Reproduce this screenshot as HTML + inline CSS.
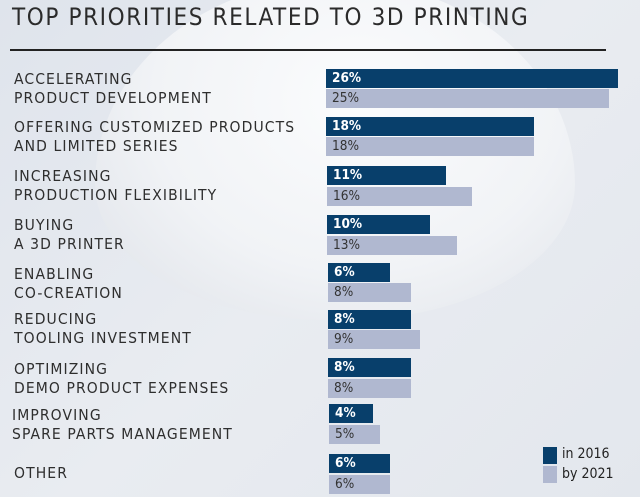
<!DOCTYPE html>
<html><head><meta charset="utf-8"><style>
html,body{margin:0;padding:0}
body{width:640px;height:497px;position:relative;overflow:hidden;font-family:"DejaVu Sans Condensed","DejaVu Sans","Liberation Sans",sans-serif;color:#333;
background:linear-gradient(135deg,#dfe4ec 0%,#e9ecf1 50%,#e3e7ed 100%);}
.dome{position:absolute;left:95px;top:-20px;width:480px;height:340px;border-radius:50% 50% 48% 48%/60% 60% 40% 40%;
background:radial-gradient(ellipse at 55% 35%,#fbfcfd 0%,#f1f3f6 55%,#e6e9ee 80%,rgba(228,232,238,0) 100%);}
.t{position:absolute;left:12px;top:3px;font-size:24px;letter-spacing:1.6px;color:#2b2b2b;white-space:nowrap}
.rule{position:absolute;left:10px;top:49px;width:596px;height:2px;background:#222}
.l{position:absolute;left:14px;font-size:15.5px;line-height:19px;letter-spacing:1.1px;color:#2e2e2e;white-space:nowrap}
.b{position:absolute;height:19px;color:#fff;font-size:13.5px;font-weight:bold;line-height:19px;padding-left:6px;box-sizing:border-box}
.d{background:#083f6b}
.g{background:#b0b8d0;color:#333;font-weight:normal}
.lg{position:absolute;width:14px;height:17px}
.lt{position:absolute;left:562px;font-size:14px;color:#222}
</style></head><body>
<div class="dome"></div>
<div class="t">TOP PRIORITIES RELATED TO 3D PRINTING</div>
<div class="rule"></div>

<div class="l" style="top:70px">ACCELERATING<br>PRODUCT DEVELOPMENT</div>
<div class="b d" style="left:326px;top:69px;width:292px">26%</div>
<div class="b g" style="left:326px;top:89px;width:283px">25%</div>

<div class="l" style="top:118px">OFFERING CUSTOMIZED PRODUCTS<br>AND LIMITED SERIES</div>
<div class="b d" style="left:326px;top:117px;width:208px">18%</div>
<div class="b g" style="left:326px;top:137px;width:208px">18%</div>

<div class="l" style="top:167px">INCREASING<br>PRODUCTION FLEXIBILITY</div>
<div class="b d" style="left:327px;top:166px;width:119px">11%</div>
<div class="b g" style="left:327px;top:187px;width:145px">16%</div>

<div class="l" style="top:216px">BUYING<br>A 3D PRINTER</div>
<div class="b d" style="left:327px;top:215px;width:103px">10%</div>
<div class="b g" style="left:327px;top:236px;width:130px">13%</div>

<div class="l" style="top:265px">ENABLING<br>CO-CREATION</div>
<div class="b d" style="left:328px;top:263px;width:62px">6%</div>
<div class="b g" style="left:328px;top:283px;width:83px">8%</div>

<div class="l" style="top:310px">REDUCING<br>TOOLING INVESTMENT</div>
<div class="b d" style="left:328px;top:310px;width:83px">8%</div>
<div class="b g" style="left:328px;top:330px;width:92px">9%</div>

<div class="l" style="top:360px">OPTIMIZING<br>DEMO PRODUCT EXPENSES</div>
<div class="b d" style="left:328px;top:358px;width:83px">8%</div>
<div class="b g" style="left:328px;top:379px;width:83px">8%</div>

<div class="l" style="top:406px;left:12px">IMPROVING<br>SPARE PARTS MANAGEMENT</div>
<div class="b d" style="left:329px;top:404px;width:44px">4%</div>
<div class="b g" style="left:329px;top:425px;width:51px">5%</div>

<div class="l" style="top:464px">OTHER</div>
<div class="b d" style="left:329px;top:454px;width:61px">6%</div>
<div class="b g" style="left:329px;top:475px;width:61px">6%</div>

<div class="lg" style="left:543px;top:447px;background:#083f6b"></div>
<div class="lt" style="top:446px">in 2016</div>
<div class="lg" style="left:543px;top:466px;background:#b0b8d0"></div>
<div class="lt" style="top:466px">by 2021</div>
</body></html>
